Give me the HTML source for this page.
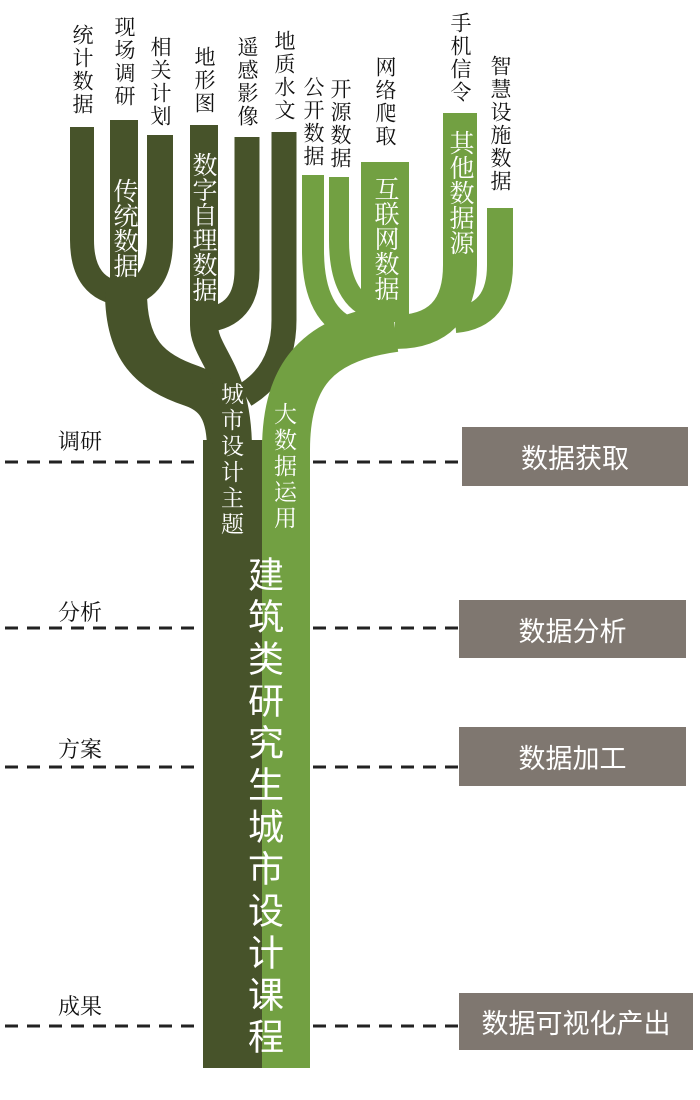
<!DOCTYPE html>
<html><head><meta charset="utf-8"><style>
body{margin:0;width:700px;height:1100px;background:#fff;position:relative;overflow:hidden;font-family:"Liberation Serif","Noto Serif CJK SC",serif}
.v{position:absolute;writing-mode:vertical-rl;text-orientation:upright;line-height:1;white-space:nowrap}
.k{color:#111;font-size:21px;letter-spacing:2px}
.w{color:#fff}
.box{position:absolute;background:#7f7770;color:#fff;font-family:"Liberation Sans","Noto Sans CJK SC",sans-serif;font-size:27px;display:flex;align-items:center;justify-content:center}
.lab{position:absolute;font-size:22px;color:#111}
</style></head><body>
<svg width="700" height="1100" style="position:absolute;left:0;top:0" fill="none">
<g stroke="#222" stroke-width="3" stroke-dasharray="13 9">
<line x1="5" y1="462" x2="460" y2="462"/>
<line x1="5" y1="628" x2="460" y2="628"/>
<line x1="5" y1="767" x2="460" y2="767"/>
<line x1="5" y1="1026" x2="460" y2="1026"/>
</g>
<g stroke="#47532a" stroke-linecap="butt">
<path d="M82,127 V240 Q82,290 124,294" stroke-width="24"/>
<path d="M160,135 V240 Q160,288 124,294" stroke-width="26"/>
<path d="M124,120 V300" stroke-width="28"/>
<path d="M126,292 C126,350 150,372 192,386 C215,394 228,410 228,450" stroke-width="42"/>
<path d="M247,137 V270 Q247,316 205,320" stroke-width="25"/>
<path d="M204,125 V325 C204,355 238,370 238,450" stroke-width="28"/>
<path d="M284,132 V320 Q284,372 245,395" stroke-width="25"/>
</g>
<rect x="203" y="440" width="59" height="628" fill="#47532a"/>
<g stroke="#72a042" stroke-linecap="butt">
<path d="M313,175 V250 Q313,318 355,330" stroke-width="22"/>
<path d="M339,177 V240 Q339,300 375,310" stroke-width="20"/>
<path d="M385,162 V322" stroke-width="48"/>
<path d="M500,208 V265 Q500,316 455,320" stroke-width="26"/>
<path d="M460,113 V265 Q460,332 395,332" stroke-width="34"/>
<path d="M286,450 C286,372 320,338 395,328" stroke-width="48"/>
</g>
<rect x="262" y="440" width="48" height="628" fill="#72a042"/>
</svg>
<div class="v k" style="left:71px;top:24px">统计数据</div>
<div class="v k" style="left:113px;top:16px">现场调研</div>
<div class="v k" style="left:149px;top:36px">相关计划</div>
<div class="v k" style="left:193px;top:46px">地形图</div>
<div class="v k" style="left:236px;top:36px">遥感影像</div>
<div class="v k" style="left:273px;top:30px">地质水文</div>
<div class="v k" style="left:302px;top:76px">公开数据</div>
<div class="v k" style="left:329px;top:78px">开源数据</div>
<div class="v k" style="left:374px;top:56px">网络爬取</div>
<div class="v k" style="left:449px;top:12px">手机信令</div>
<div class="v k" style="left:489px;top:55px">智慧设施数据</div>
<div class="v w" style="left:111px;top:178px;font-size:25px">传统数据</div>
<div class="v w" style="left:190px;top:152px;font-size:25px">数字自理数据</div>
<div class="v w" style="left:372px;top:176px;font-size:25px">互联网数据</div>
<div class="v w" style="left:447px;top:130px;font-size:25px">其他数据源</div>
<div class="v w" style="left:219px;top:382px;font-size:23px;letter-spacing:3px">城市设计主题</div>
<div class="v w" style="left:272px;top:402px;font-size:23px;letter-spacing:3px">大数据运用</div>
<div class="v w" style="left:245px;top:556px;font-size:36px;letter-spacing:6px;font-family:'Liberation Sans','Noto Sans CJK SC',sans-serif">建筑类研究生城市设计课程</div>
<div class="lab" style="left:58px;top:425px">调研</div>
<div class="lab" style="left:58px;top:596px">分析</div>
<div class="lab" style="left:58px;top:733px">方案</div>
<div class="lab" style="left:58px;top:990px">成果</div>
<div class="box" style="left:462px;top:427px;width:226px;height:59px">数据获取</div>
<div class="box" style="left:459px;top:600px;width:227px;height:58px">数据分析</div>
<div class="box" style="left:459px;top:727px;width:227px;height:59px">数据加工</div>
<div class="box" style="left:459px;top:993px;width:234px;height:57px">数据可视化产出</div>
</body></html>
